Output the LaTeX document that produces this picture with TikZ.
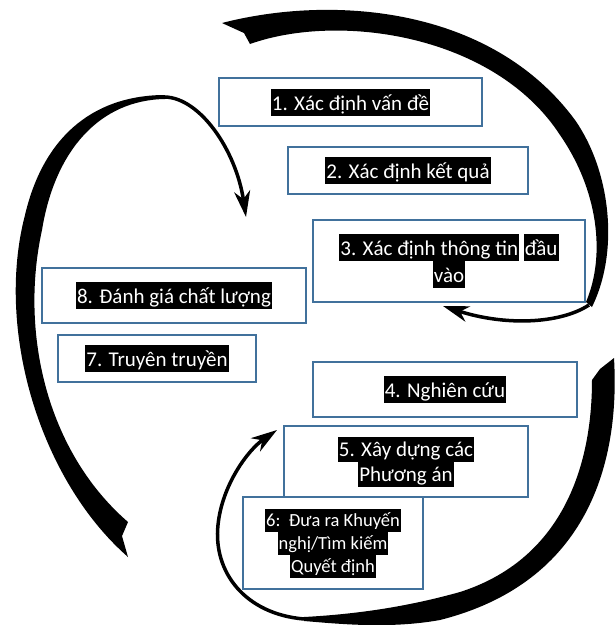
\documentclass[tikz,border=0pt]{standalone}
\usepackage{fontspec}
\setmainfont{Carlito}
\usetikzlibrary{arrows.meta}
\definecolor{boxblue}{RGB}{65,113,156}
\tikzstyle{stepbox} = [rectangle, draw=boxblue, line width=2.2pt, fill=white, text=white, align=center, inner sep=0pt, font=\fontsize{21}{27}\selectfont]
\tikzstyle{band} = [fill=black]
\tikzstyle{loop} = [line width=3.5pt, -{Stealth[length=26pt,width=16pt,inset=8pt]}]
\setlength{\fboxsep}{0pt}
\newcommand{\hl}[1]{\colorbox{black}{\rule[-0.2\baselineskip]{0pt}{\baselineskip}\kern1pt#1\kern1pt}}

\begin{document}
\begin{tikzpicture}[x=1pt, y=-1pt]
  \useasboundingbox (0,0) rectangle (616,625);

  % vong tren
  \coordinate (endA) at (589,305);
  \coordinate (tipA) at (443,306);
  \fill[band] (222,23) .. controls (330,-5) and (490,5) .. (575,120)
    .. controls (610,170) and (620,250) .. (592,307)
    -- (586,302) .. controls (606,255) and (598,190) .. (560,135)
    .. controls (495,35) and (340,12) .. (250,44)
    -- (244,33) -- cycle;
  \draw[loop] (endA) .. controls (560,324) and (505,326) .. (tipA);

  % vong duoi
  \coordinate (endB) at (304,619);
  \coordinate (midB) at (218,525);
  \coordinate (tipB) at (277,430);
  \fill[band] (614,358) .. controls (620,460) and (590,582) .. (440,620)
    .. controls (390,629) and (340,624) .. (304,621)
    -- (304,617) .. controls (360,614) and (410,606) .. (460,592)
    .. controls (560,560) and (592,470) .. (592,380)
    -- (600,369) -- cycle;
  \draw[loop] (endB) .. controls (245,614) and (213,572) .. (midB) .. controls (222,485) and (248,450) .. (tipB);

  % vong trai
  \coordinate (endC) at (165,97);
  \coordinate (tipC) at (246,217);
  \fill[band] (128,557) .. controls (40,480) and (-5,330) .. (25,215)
    .. controls (45,130) and (100,95) .. (165,95)
    -- (165,99) .. controls (100,100) and (55,150) .. (42,230)
    .. controls (20,330) and (45,450) .. (128,522)
    -- (122,536) -- cycle;
  \draw[loop] (endC) .. controls (200,98) and (236,150) .. (tipC);

  % cac buoc
  \node[stepbox, minimum width=263, minimum height=48] (s1) at (350.5,102) {\hl{1. Xác định vấn đề}};
  \node[stepbox, minimum width=240, minimum height=47] (s2) at (408,170.5) {\hl{2. Xác định kết quả}};
  \node[stepbox, minimum width=272, minimum height=82] (s3) at (449,261) {\hl{3. Xác định thông tin} \hl{đầu}\\\hl{vào}};
  \node[stepbox, minimum width=264, minimum height=55] (s4) at (445,389.5) {\hl{4. Nghiên cứu}};
  \node[stepbox, minimum width=244, minimum height=71, font=\fontsize{21}{25}\selectfont] (s5) at (406,461.5) {\hl{5. Xây dựng các}\\\hl{Phương án}};
  \node[stepbox, minimum width=180, minimum height=92, font=\fontsize{18.5}{23}\selectfont] (s6) at (333,543) {\hl{6:\ \ Đưa ra Khuyến}\\\hl{nghị/Tìm kiếm}\\\hl{Quyết định}};
  \node[stepbox, minimum width=198, minimum height=47] (s7) at (157,358.5) {\hl{7. Truyên truyền}};
  \node[stepbox, minimum width=264, minimum height=55] (s8) at (174,295.5) {\hl{8. Đánh giá chất lượng}};
\end{tikzpicture}
\end{document}
